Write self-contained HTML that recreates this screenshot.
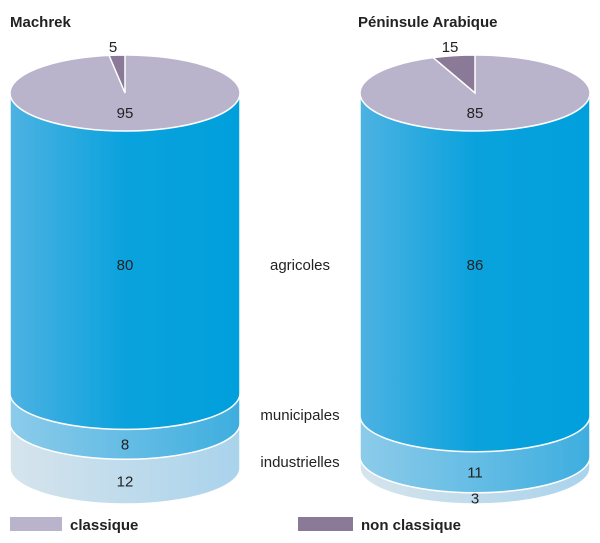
<!DOCTYPE html>
<html><head><meta charset="utf-8"><style>
body{margin:0;background:#fff}
svg{display:block;font-family:"Liberation Sans",sans-serif}
</style></head><body>
<svg id="c" width="600" height="543" viewBox="0 0 600 543">
<defs>
<linearGradient id="gA" x1="0" x2="1"><stop offset="0" stop-color="#4db2e2"/><stop offset="0.5" stop-color="#0aa2dd"/><stop offset="1" stop-color="#00a0dc"/></linearGradient>
<linearGradient id="gM" x1="0" x2="1"><stop offset="0" stop-color="#8ccbea"/><stop offset="1" stop-color="#3eaedf"/></linearGradient>
<linearGradient id="gI" x1="0" x2="1"><stop offset="0" stop-color="#d6e4ec"/><stop offset="1" stop-color="#a9d3ec"/></linearGradient>
</defs>
<text x="10" y="27" font-size="15" font-weight="bold" fill="#222">Machrek</text>
<text x="358" y="27" font-size="15" font-weight="bold" fill="#222">Péninsule Arabique</text>
<text x="300" y="270" font-size="15" fill="#222" text-anchor="middle">agricoles</text>
<text x="300" y="420" font-size="15" fill="#222" text-anchor="middle">municipales</text>
<text x="300" y="467" font-size="15" fill="#222" text-anchor="middle">industrielles</text>
<rect x="10" y="517" width="52" height="14" fill="#bab3cc"/>
<text x="70" y="530" font-size="15" font-weight="bold" fill="#222">classique</text>
<rect x="298" y="517" width="55" height="14" fill="#8a7a98"/>
<text x="361" y="530" font-size="15" font-weight="bold" fill="#222">non classique</text>
</svg>
<script>
const regions = ["machrek", "peninsule"];
const usesAgricoles = [80, 86];
const usesMunicipales = [8, 11];
const usesIndustrielles = [12, 3];
const pieClassique = [95, 85];
const pieNonClassique = [5, 15];

const svg = document.getElementById('c');
const NS = 'http://www.w3.org/2000/svg';
const centers = [125, 475], rx = 115, ry = 36, yTop = 95, yBot = 468;
const scaleY = v => (yBot - yTop) * v / 100;
function mk(tag, attrs, parent) {
  const e = document.createElementNS(NS, tag);
  for (const k in attrs) e.setAttribute(k, attrs[k]);
  (parent || svg).appendChild(e);
  return e;
}
regions.forEach((r, i) => {
  const cx = centers[i], x0 = cx - rx, x1 = cx + rx;
  const segs = [
    {v: usesAgricoles[i], fill: 'url(#gA)', n: 'agricoles'},
    {v: usesMunicipales[i], fill: 'url(#gM)', n: 'municipales'},
    {v: usesIndustrielles[i], fill: 'url(#gI)', n: 'industrielles'}
  ];
  let y = yTop;
  const bounds = segs.map(s => { const a = y; y += scaleY(s.v); return [a, y]; });
  for (let k = segs.length - 1; k >= 0; k--) {
    const [a, b] = bounds[k];
    const p = mk('path', {d: `M${x0},${a} L${x0},${b} A${rx},${ry} 0 0 0 ${x1},${b} L${x1},${a} Z`, fill: segs[k].fill, stroke: '#fff', 'stroke-width': 1.5});
    
    
  }
  for (let k = 0; k < segs.length; k++) {
    const [a, b] = bounds[k];
    const ty = k === 0 ? 270 : (a + b) / 2 + ry + 5;
    const t = mk('text', {x: cx, y: ty, 'font-size': 15, fill: '#222', 'text-anchor': 'middle'});
    t.textContent = segs[k].v;
    
    
  }
  // pie top
  const pry = ry + 2, pcy = yTop - 2;
  const pe = mk('ellipse', {cx: cx, cy: pcy, rx: rx, ry: pry, fill: '#bab3cc', stroke: '#fff', 'stroke-width': 1.5});
  
  
  const th = 2 * Math.PI * pieNonClassique[i] / 100;
  const dx = rx * Math.sin(th) * 0.45;
  const px = cx - dx, py = pcy - pry * Math.sqrt(1 - (dx / rx) * (dx / rx));
  const sl = mk('path', {d: `M${cx},${pcy} L${cx},${pcy - pry} A${rx},${pry} 0 0 0 ${px},${py} Z`, fill: '#8a7a98', stroke: '#fff', 'stroke-width': 1.5});
  
  
  const t1 = mk('text', {x: cx, y: pcy + 25, 'font-size': 15, fill: '#222', 'text-anchor': 'middle'});
  t1.textContent = pieClassique[i];
  
  
  const t2 = mk('text', {x: (cx + px) / 2 - 4, y: pcy - pry - 3, 'font-size': 15, fill: '#222', 'text-anchor': 'middle'});
  t2.textContent = pieNonClassique[i];
  
  
});
</script>
</body></html>
